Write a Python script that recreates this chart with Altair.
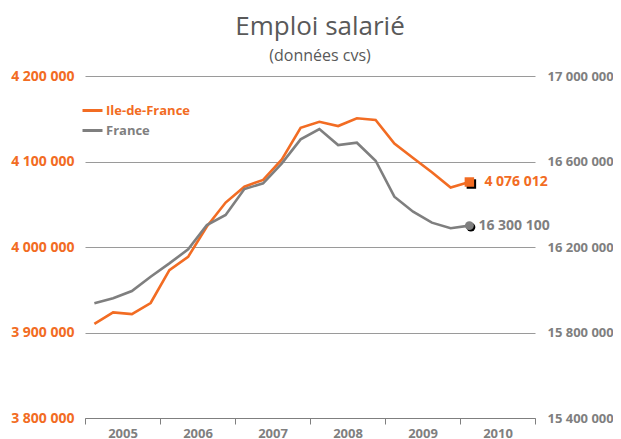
import altair as alt
import pandas as pd

years = [2005] * 4 + [2006] * 4 + [2007] * 4 + [2008] * 4 + [2009] * 4 + [2010]
quarters = [1, 2, 3, 4] * 5 + [1]
idf = [3910000, 3923500, 3921500, 3934500, 3973000, 3988500, 4024000, 4052000,
       4070500, 4078500, 4102500, 4139500, 4146500, 4141500, 4150500, 4148500,
       4121000, 4104000, 4087500, 4069500, 4076012]
france = [15936500, 15960000, 15994000, 16061000, 16123500, 16189000, 16303000,
          16350000, 16471000, 16498000, 16591500, 16703500, 16752000, 16677000,
          16688000, 16603500, 16435500, 16365000, 16314000, 16287500, 16300100]
series_names = ["Ile-de-France", "France"]
left_ticks = [3800000, 3900000, 4000000, 4100000, 4200000]
right_ticks = [15400000, 15800000, 16200000, 16600000, 17000000]
year_ticks = [2005, 2006, 2007, 2008, 2009, 2010, 2011]

ORANGE = "#F26C23"
GRAY = "#7F7F7F"
TXT = "#595959"
FONT = "Open Sans"

t = [y + (q - 0.5) / 4 for y, q in zip(years, quarters)]
df_idf = pd.DataFrame({"t": t, "value": idf, "series": series_names[0]})
df_fr = pd.DataFrame({"t": t, "value": france, "series": series_names[1]})


def fmt(v):
    return f"{v:,}".replace(",", " ")


last_idf = pd.DataFrame({"t": [t[-1]], "value": [idf[-1]], "label": [fmt(idf[-1])]})
last_fr = pd.DataFrame({"t": [t[-1]], "value": [france[-1]], "label": [fmt(france[-1])]})

space_expr = "replace(replace(replace(format(datum.value, ',d'), ',', ' '), ',', ' '), ',', ' ')"

x_axis = alt.Axis(
    values=year_ticks, title=None, grid=False, labelOffset=37.5,
    labelExpr="datum.value == 2011 ? '' : '' + datum.value",
    labelFlush=False, labelOverlap=False, labelBound=False,
    domainColor=GRAY, tickColor=GRAY, tickSize=6, labelPadding=3,
    labelColor=GRAY, labelFontWeight="bold", labelFontSize=13, labelFont=FONT,
)
x_enc = alt.X("t:Q", scale=alt.Scale(domain=[2005, 2011], nice=False, zero=False), axis=x_axis)

color = alt.Color(
    "series:N",
    scale=alt.Scale(domain=series_names, range=[ORANGE, GRAY]),
    legend=alt.Legend(
        title=None, orient="none", legendX=-4, legendY=23,
        symbolType="stroke", symbolSize=400, symbolStrokeWidth=3,
        labelFontSize=13, labelFontWeight="bold", labelFont=FONT,
        labelColor={"expr": "datum.label == 'France' ? '#7F7F7F' : '#F26C23'"},
        rowPadding=1, labelOffset=2, symbolOffset=0,
    ),
)

yl_scale = alt.Scale(domain=[3800000, 4200000], nice=False, zero=False)
yr_scale = alt.Scale(domain=[15400000, 17000000], nice=False, zero=False)

yl_axis = alt.Axis(
    values=left_ticks, title=None, orient="left", grid=True, gridColor="#9A9A9A",
    domain=False, ticks=False, labelPadding=11, labelExpr=space_expr,
    labelColor=ORANGE, labelFontWeight="bold", labelFontSize=14, labelFont=FONT,
)
yr_axis = alt.Axis(
    values=right_ticks, title=None, orient="right", grid=False,
    domain=False, ticks=False, labelPadding=12, labelExpr=space_expr,
    labelColor=GRAY, labelFontWeight="bold", labelFontSize=13, labelFont=FONT,
)
yl = alt.Y("value:Q", scale=yl_scale, axis=yl_axis)
yr = alt.Y("value:Q", scale=yr_scale, axis=yr_axis)

left_line = alt.Chart(df_idf).mark_line(strokeWidth=2.6).encode(x=x_enc, y=yl, color=color)
left_shadow = alt.Chart(last_idf).mark_square(size=90, opacity=1, color="black", xOffset=2, yOffset=2).encode(
    x=x_enc, y=yl)
left_pt = alt.Chart(last_idf).mark_square(size=90, opacity=1, color=ORANGE).encode(x=x_enc, y=yl)
left_txt = alt.Chart(last_idf).mark_text(
    align="left", baseline="middle", dx=15, fontSize=14, fontWeight="bold", font=FONT, color=ORANGE
).encode(x=x_enc, y=yl, text="label:N")

right_line = alt.Chart(df_fr).mark_line(strokeWidth=2.6).encode(x=x_enc, y=yr, color=color)
right_shadow = alt.Chart(last_fr).mark_circle(size=80, opacity=1, color="black", xOffset=1.5, yOffset=1.5).encode(
    x=x_enc, y=yr)
right_pt = alt.Chart(last_fr).mark_circle(size=80, opacity=1, color=GRAY).encode(x=x_enc, y=yr)
right_txt = alt.Chart(last_fr).mark_text(
    align="left", baseline="middle", dx=9, fontSize=14, fontWeight="bold", font=FONT, color=GRAY
).encode(x=x_enc, y=yr, text="label:N")

left_layer = alt.layer(left_line, left_shadow, left_pt, left_txt)
right_layer = alt.layer(right_line, right_shadow, right_pt, right_txt)

chart = alt.layer(left_layer, right_layer).resolve_scale(y="independent").properties(
    width=450, height=342,
    autosize=alt.AutoSizeParams(type="none"),
    padding={"left": 77, "top": 68, "right": 78, "bottom": 21},
    title=alt.TitleParams(
        "Emploi salarié", subtitle="(données cvs)", anchor="middle", frame="group",
        fontSize=26, fontWeight="normal", font=FONT, color=TXT,
        subtitleFontSize=16, subtitleFont=FONT, subtitleColor=TXT,
        subtitlePadding=8, offset=5, dx=10,
    ),
).configure_view(stroke=None)

chart.save("out.html", embed_options={"renderer": "svg", "actions": False})
